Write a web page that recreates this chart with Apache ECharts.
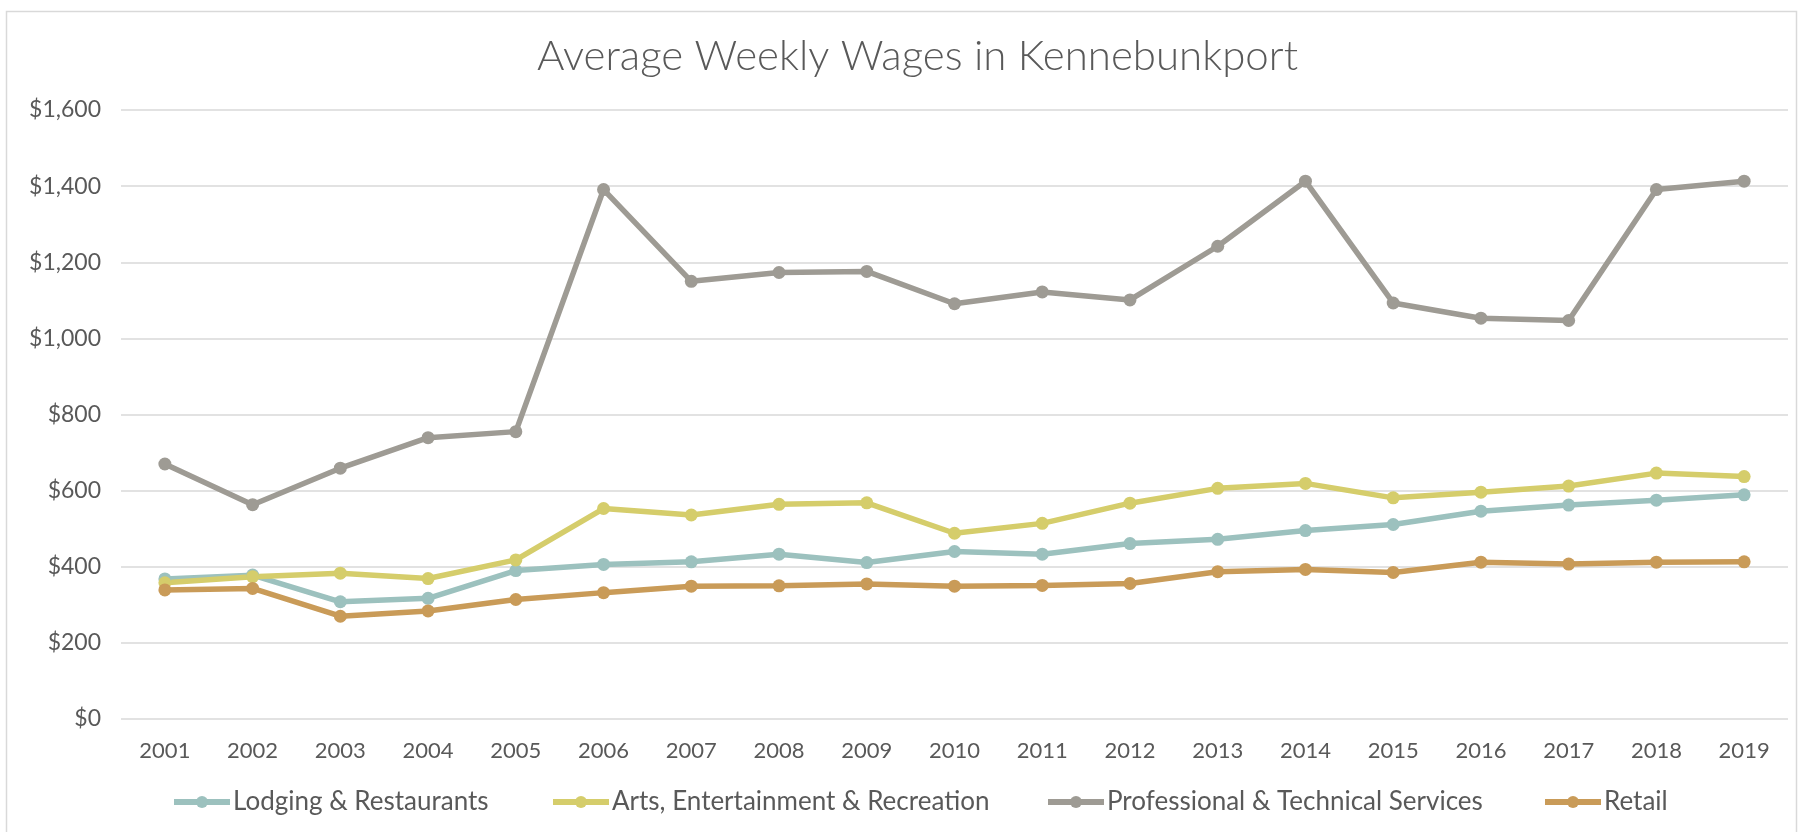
<!DOCTYPE html>
<html lang="en">
<head>
    <meta charset="UTF-8">
    <title>Average Weekly Wages in Kennebunkport</title>
    <script src="https://cdn.jsdelivr.net/npm/echarts@6/dist/echarts.min.js"></script>
    <style>
        html, body { margin: 0; padding: 0; background: #fff; }
        #chart { width: 1803px; height: 832px; }
    </style>
</head>
<body>
    <div id="chart"></div>
    <script>
        var years = ['2001', '2002', '2003', '2004', '2005', '2006', '2007', '2008', '2009', '2010',
                     '2011', '2012', '2013', '2014', '2015', '2016', '2017', '2018', '2019'];

        var lodging = [368, 378, 308, 317, 390, 406, 413, 433, 411, 440, 433, 461, 472, 495, 511, 546, 562, 575, 589];
        var arts = [358, 374, 383, 369, 418, 553, 536, 564, 568, 488, 514, 567, 606, 619, 581, 596, 612, 646, 637];
        var professional = [670, 563, 659, 739, 755, 1391, 1150, 1173, 1176, 1091, 1122, 1101, 1242, 1413, 1093, 1053, 1047, 1391, 1413];
        var retail = [339, 343, 270, 284, 314, 332, 349, 350, 355, 349, 351, 356, 387, 393, 385, 412, 407, 412, 413];

        var seriesNames = ['Lodging & Restaurants', 'Arts, Entertainment & Recreation', 'Professional & Technical Services', 'Retail'];
        var colors = ['#9cc1be', '#d5cd6b', '#9e9b94', '#c99b58'];
        // left edge of each legend icon
        var legendLeft = [171, 550, 1045, 1542];

        var fontFamily = 'Lato';
        var textColor = '#595959';

        var chart = echarts.init(document.getElementById('chart'));

        function makeSeries(name, data, color) {
            return {
                name: name,
                type: 'line',
                data: data,
                symbol: 'circle',
                symbolSize: 13,
                itemStyle: { color: color },
                lineStyle: { color: color, width: 5.5 },
                emphasis: { disabled: true }
            };
        }

        var legends = seriesNames.map(function (name, i) {
            return {
                data: [name],
                left: legendLeft[i],
                top: 789,
                padding: 0,
                itemWidth: 56,
                itemHeight: 15,
                itemGap: 3,
                lineStyle: { width: 6 },
                textStyle: { fontFamily: fontFamily, fontSize: 26, color: textColor, padding: [0, 0, 0, -2] }
            };
        });

        chart.setOption({
            animation: false,
            title: {
                text: 'Average Weekly Wages in Kennebunkport',
                left: 532,
                top: 30,
                textStyle: { fontFamily: fontFamily, fontSize: 42, fontWeight: 300, color: textColor }
            },
            graphic: [{
                type: 'rect',
                shape: { x: 6.5, y: 11.5, width: 1790, height: 840 },
                style: { fill: 'none', stroke: '#d9d9d9', lineWidth: 1.5 },
                silent: true
            }],
            legend: legends,
            grid: { left: 121, right: 15, top: 110, bottom: 113 },
            xAxis: {
                type: 'category',
                data: years,
                boundaryGap: true,
                axisLine: { show: false },
                axisTick: { show: false },
                axisLabel: { fontFamily: fontFamily, fontSize: 22, color: textColor, margin: 21 }
            },
            yAxis: {
                type: 'value',
                min: 0,
                max: 1600,
                interval: 200,
                axisLine: { show: false },
                axisTick: { show: false },
                splitLine: { lineStyle: { color: '#d9d9d9', width: 1.5 } },
                axisLabel: {
                    fontFamily: fontFamily, fontSize: 23, color: textColor, margin: 20,
                    formatter: function (v) { return '$' + v.toLocaleString('en-US'); }
                }
            },
            series: [
                makeSeries(seriesNames[0], lodging, colors[0]),
                makeSeries(seriesNames[1], arts, colors[1]),
                makeSeries(seriesNames[2], professional, colors[2]),
                makeSeries(seriesNames[3], retail, colors[3])
            ]
        });
    </script>
</body>
</html>
